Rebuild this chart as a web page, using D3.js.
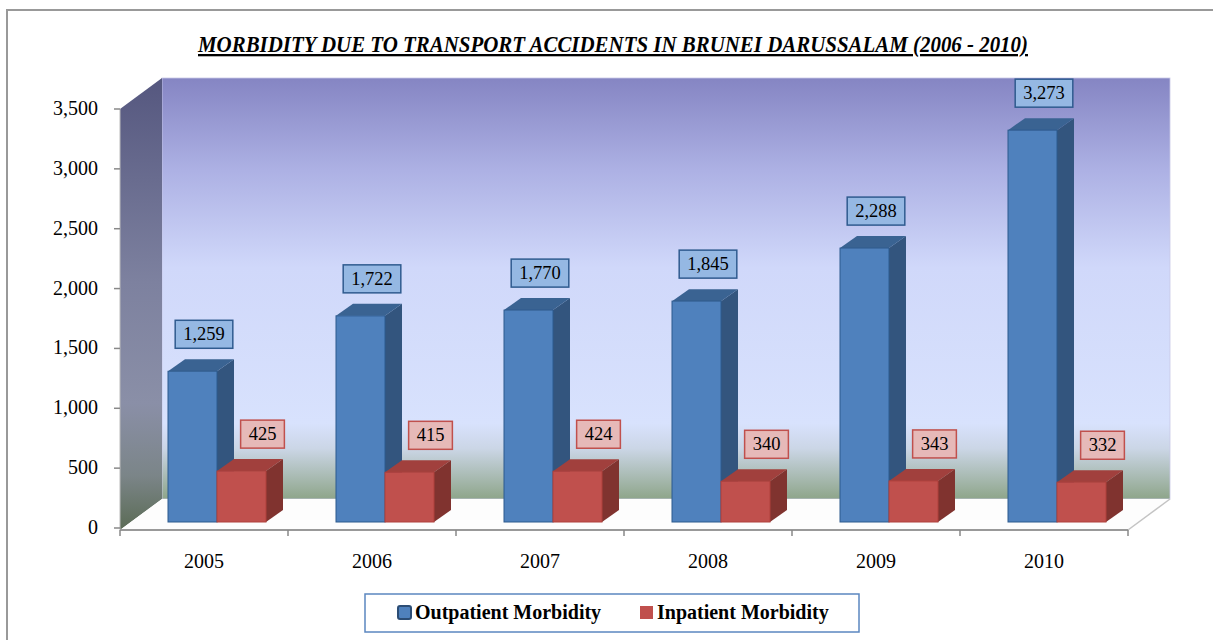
<!DOCTYPE html>
<html>
<head>
<meta charset="utf-8">
<script src="https://cdn.jsdelivr.net/npm/d3@7"></script>
<style>
  body { margin: 0; background: #fff; }
  text { font-family: "Liberation Serif", serif; fill: #000; }
</style>
</head>
<body>
<div id="chart"></div>
<script>
// data
const years = ["2005", "2006", "2007", "2008", "2009", "2010"];
const outpatient = [1259, 1722, 1770, 1845, 2288, 3273];
const inpatient = [425, 415, 424, 340, 343, 332];
const yTicks = [0, 500, 1000, 1500, 2000, 2500, 3000, 3500];
const seriesNames = ["Outpatient Morbidity", "Inpatient Morbidity"];

const width = 1213, height = 640;
const svg = d3.select("#chart").append("svg")
  .attr("width", width).attr("height", height);

// frame
svg.append("path")
  .attr("d", `M7,${height} V10 H${width}`)
  .attr("fill", "none").attr("stroke", "#999").attr("stroke-width", 2);

// title
svg.append("text")
  .attr("x", 613).attr("y", 52)
  .attr("text-anchor", "middle")
  .attr("font-size", 23).attr("font-weight", "bold").attr("font-style", "italic")
  .attr("text-decoration", "underline")
  .attr("textLength", 830).attr("lengthAdjust", "spacingAndGlyphs")
  .text("MORBIDITY DUE TO TRANSPORT ACCIDENTS IN BRUNEI DARUSSALAM (2006 - 2010)");

// scales
const x = d3.scaleBand().domain(years).range([120, 1128]);
const y = d3.scaleLinear().domain([0, 3500]).range([528, 109]);
const yBar = d3.scaleLinear().domain([0, 3500]).range([522, 103]);
const xs = d3.scaleBand().domain(seriesNames).range([48, 146]);
const depth = { dx: 42, dy: -31 };
const barDepth = { dx: 17, dy: -12 };

// gradients
const defs = svg.append("defs");
const back = defs.append("linearGradient").attr("id", "backWall")
  .attr("x1", 0).attr("y1", 0).attr("x2", 0).attr("y2", 1);
[[0, "#8585c3"], [0.22, "#adb1e4"], [0.45, "#d0d8fa"], [0.82, "#d8e2fd"],
 [0.88, "#cbd6e6"], [1, "#8ea58a"]].forEach(([o, c]) =>
  back.append("stop").attr("offset", o).attr("stop-color", c));
const side = defs.append("linearGradient").attr("id", "sideWall")
  .attr("x1", 0).attr("y1", 0).attr("x2", 0).attr("y2", 1);
[[0, "#55577f"], [0.45, "#7d819f"], [0.72, "#8a8fa7"], [0.88, "#7b8588"], [1, "#5b6b55"]]
  .forEach(([o, c]) => side.append("stop").attr("offset", o).attr("stop-color", c));

const x0 = x.range()[0], x1 = x.range()[1];
const yTop = y(3500), yBot = y(0) + 2;

// back wall
svg.append("rect")
  .attr("x", x0 + depth.dx).attr("y", yTop + depth.dy)
  .attr("width", x1 - x0).attr("height", yBot - yTop)
  .attr("fill", "url(#backWall)")
  .attr("stroke", "#c8c8e6").attr("stroke-width", 0.8);

// side wall
svg.append("polygon")
  .attr("points", [[x0, yTop], [x0 + depth.dx, yTop + depth.dy],
    [x0 + depth.dx, yBot + depth.dy], [x0, yBot]].join(" "))
  .attr("fill", "url(#sideWall)");

// floor
svg.append("polygon")
  .attr("points", [[x0, yBot], [x0 + depth.dx, yBot + depth.dy],
    [x1 + depth.dx, yBot + depth.dy], [x1, yBot]].join(" "))
  .attr("fill", "#fdfdfd");
svg.append("line")
  .attr("x1", x1).attr("y1", yBot).attr("x2", x1 + depth.dx).attr("y2", yBot + depth.dy)
  .attr("stroke", "#c4c4c4").attr("stroke-width", 1.5);

// y axis
const yAxis = svg.append("g");
yAxis.append("line")
  .attr("x1", x0).attr("x2", x0).attr("y1", yTop).attr("y2", yBot)
  .attr("stroke", "#bbb").attr("stroke-width", 1);
yAxis.selectAll("line.tick").data(yTicks).join("line")
  .attr("class", "tick")
  .attr("x1", x0 - 6).attr("x2", x0).attr("y1", d => y(d)).attr("y2", d => y(d))
  .attr("stroke", "#888").attr("stroke-width", 1.5);
yAxis.selectAll("text").data(yTicks).join("text")
  .attr("x", 98).attr("y", d => y(d) + 6)
  .attr("text-anchor", "end").attr("font-size", 20)
  .text(d => d3.format(",")(d));

// x axis
svg.append("line")
  .attr("x1", x0).attr("x2", x1).attr("y1", yBot).attr("y2", yBot)
  .attr("stroke", "#999").attr("stroke-width", 2);
svg.selectAll("line.xtick").data(years.concat(["end"])).join("line")
  .attr("class", "xtick")
  .attr("x1", (d, i) => x0 + i * x.bandwidth()).attr("x2", (d, i) => x0 + i * x.bandwidth())
  .attr("y1", yBot).attr("y2", yBot + 6)
  .attr("stroke", "#888").attr("stroke-width", 1.5);
svg.selectAll("text.xlabel").data(years).join("text")
  .attr("class", "xlabel")
  .attr("x", d => x(d) + x.bandwidth() / 2).attr("y", 568)
  .attr("text-anchor", "middle").attr("font-size", 20)
  .text(d => d);

// bars
const styles = {
  "Outpatient Morbidity": { front: "#4f81bd", top: "#3a6392", side: "#33557e", stroke: "#2c5a8e",
    boxFill: "#95b8e3", boxStroke: "#2f5b8f" },
  "Inpatient Morbidity": { front: "#c0504d", top: "#a1403d", side: "#80332f", stroke: "#b0403d",
    boxFill: "#e6b9b8", boxStroke: "#c0504d" }
};

const rows = [];
years.forEach((yr, i) => {
  rows.push({ year: yr, series: seriesNames[0], value: outpatient[i] });
  rows.push({ year: yr, series: seriesNames[1], value: inpatient[i] });
});

const bars = svg.append("g").selectAll("g").data(rows).join("g");
bars.each(function (d) {
  const g = d3.select(this);
  const s = styles[d.series];
  const l = x(d.year) + xs(d.series), r = l + xs.bandwidth();
  const t = yBar(d.value), b = yBar(0);
  const { dx, dy } = barDepth;
  g.append("polygon")
    .attr("points", [[r, t], [r + dx, t + dy], [r + dx, b + dy], [r, b]].join(" "))
    .attr("fill", s.side);
  g.append("polygon")
    .attr("points", [[l, t], [l + dx, t + dy], [r + dx, t + dy], [r, t]].join(" "))
    .attr("fill", s.top);
  g.append("rect")
    .attr("x", l).attr("y", t).attr("width", r - l).attr("height", b - t)
    .attr("fill", s.front).attr("stroke", s.stroke).attr("stroke-width", 1);
});

// data labels
const labels = svg.append("g").selectAll("g").data(rows).join("g")
  .attr("transform", d => {
    const cx = d.series === seriesNames[0]
      ? x(d.year) + x.bandwidth() / 2
      : x(d.year) + xs(d.series) + xs.bandwidth() / 2 + 21;
    return `translate(${cx},${yBar(d.value) - 37})`;
  });
labels.append("rect");
labels.append("text")
  .attr("text-anchor", "middle").attr("y", 6).attr("font-size", 18.5)
  .text(d => d3.format(",")(d.value));
labels.each(function (d) {
  const g = d3.select(this);
  const w = g.select("text").node().getComputedTextLength() + 16;
  g.select("rect")
    .attr("x", -w / 2).attr("y", -14).attr("width", w).attr("height", 28)
    .attr("fill", styles[d.series].boxFill)
    .attr("stroke", styles[d.series].boxStroke).attr("stroke-width", 1.5);
});

// legend
const legend = svg.append("g");
legend.append("rect")
  .attr("x", 365).attr("y", 594).attr("width", 494).attr("height", 38)
  .attr("fill", "#fff").attr("stroke", "#5b87c0").attr("stroke-width", 1.5);
const legendX = [398, 640];
seriesNames.forEach((name, i) => {
  const s = styles[name];
  const mk = legend.append("rect")
    .attr("x", legendX[i]).attr("y", 606).attr("width", 13).attr("height", 13)
    .attr("fill", s.front);
  if (i === 0) mk.attr("stroke", "#2c4d75").attr("stroke-width", 2).attr("rx", 2);
  legend.append("text")
    .attr("x", legendX[i] + 17).attr("y", 619)
    .attr("font-size", 20).attr("font-weight", "bold")
    .text(name);
});
</script>
</body>
</html>
